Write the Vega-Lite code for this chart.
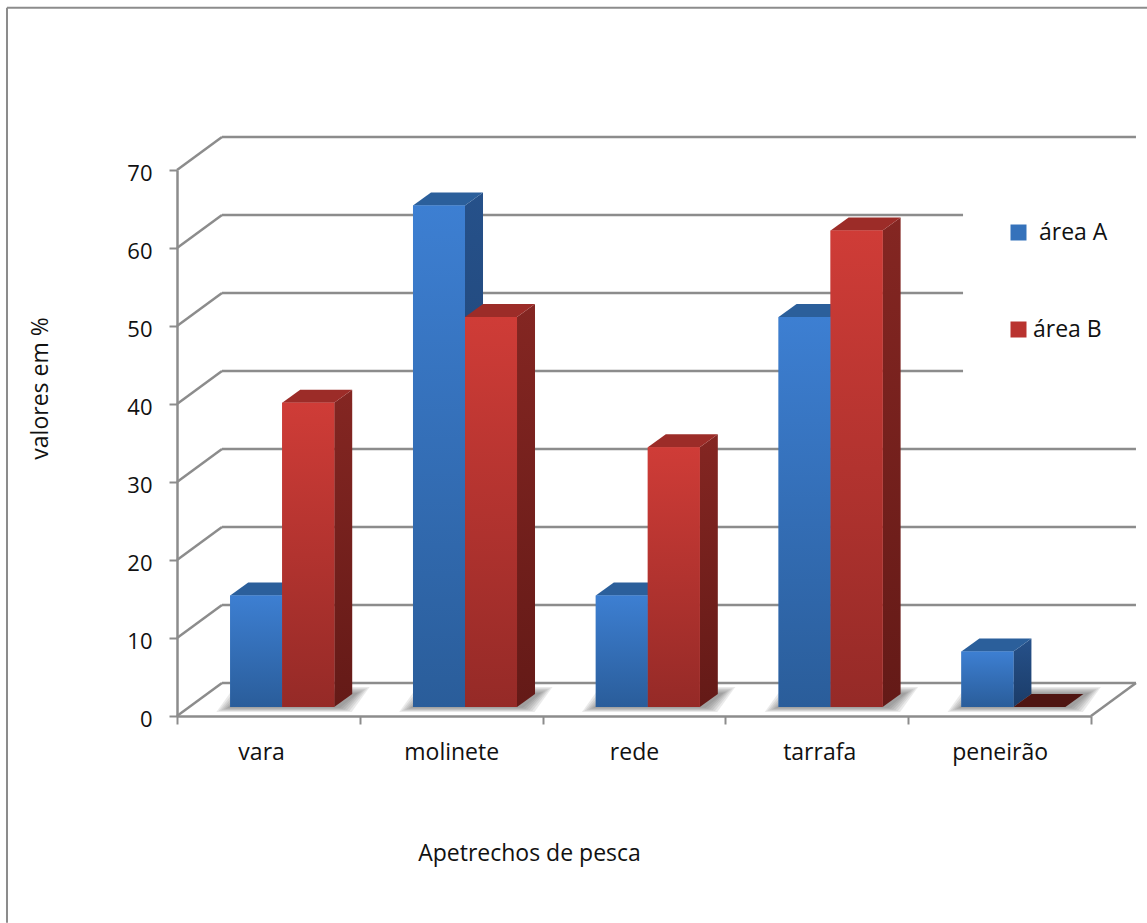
{
"$schema":"https://vega.github.io/schema/vega-lite/v6.json",
"width":914,"height":546,
"autosize":{"type":"none"},
"padding":{"left":177,"top":170,"right":56,"bottom":207},
"background":"white",
"config":{"view":{"stroke":null},"font":"Open Sans"},
"data":{"values":[
{"ferramenta":"vara","area":"área A","valor":14.3},
{"ferramenta":"vara","area":"área B","valor":39},
{"ferramenta":"molinete","area":"área A","valor":64.3},
{"ferramenta":"molinete","area":"área B","valor":50},
{"ferramenta":"rede","area":"área A","valor":14.3},
{"ferramenta":"rede","area":"área B","valor":33.3},
{"ferramenta":"tarrafa","area":"área A","valor":50},
{"ferramenta":"tarrafa","area":"área B","valor":61.1},
{"ferramenta":"peneirão","area":"área A","valor":7.1},
{"ferramenta":"peneirão","area":"área B","valor":0}
]},
"transform":[
{"calculate":"indexof(['vara','molinete','rede','tarrafa','peneirão'],datum.ferramenta)","as":"ordem"},
{"calculate":"datum.ordem+0.291+(datum.area=='área B'?0.2845:0)","as":"esq"},
{"calculate":"datum.esq+0.2845","as":"dir"},
{"calculate":"1.154","as":"base"},
{"calculate":"datum.base+datum.valor","as":"topo"},
{"calculate":"datum.ferramenta+datum.area","as":"barra"}
],
"encoding":{
"x":{"field":"px","type":"quantitative","scale":{"domain":[0,5],"nice":false,"zero":false},
"axis":{"values":[0,0.46,1,1.5,2,2.5,3,3.513,4,4.5,5],
"labelExpr":"datum.value%1==0?'':['vara','molinete','rede','tarrafa','peneirão'][floor(datum.value)]",
"tickOpacity":{"condition":{"test":"datum.value%1==0","value":1},"value":0},
"grid":false,"tickSize":8,"tickWidth":2,"tickColor":"#8c8c8c","domainColor":"#8c8c8c","domainWidth":2.5,
"labelFontSize":23,"labelColor":"#111111","labelPadding":17,"labelFlush":false,"labelOverlap":false,"labelAngle":0,
"title":"Apetrechos de pesca","titleFontSize":23,"titleFontWeight":"normal","titleColor":"#111111",
"titleX":352,"titleY":137,"titleAlign":"center","titleBaseline":"middle"}},
"y":{"field":"py","type":"quantitative","scale":{"domain":[0,70],"nice":false,"zero":false},
"axis":{"values":[0,10,20,30,40,50,60,70],"grid":false,"tickSize":8,"tickWidth":2,"tickColor":"#8c8c8c","domainColor":"#8c8c8c","domainWidth":2.5,
"labelFontSize":22,"labelColor":"#111111","labelPadding":17,"labelOverlap":false,"labelOffset":3,
"title":"valores em %","titleFontSize":23,"titleFontWeight":"normal","titleColor":"#111111",
"titleX":-137,"titleY":218,"titleAlign":"center","titleBaseline":"middle","titleAngle":-90}}
},
"layer":[
{"data":{"values":[{"borda":"esquerda"},{"borda":"superior"}]},
"transform":[
{"calculate":"-0.93","as":"px"},
{"calculate":"datum.borda=='superior'?5.31:-0.93","as":"px2"},
{"calculate":"90.8","as":"py"},
{"calculate":"datum.borda=='superior'?90.8:-26.5","as":"py2"}],
"mark":{"type":"rule","stroke":"#8c8c8c","strokeWidth":2,"clip":false},
"encoding":{"x2":{"field":"px2"},"y2":{"field":"py2"}}},

{"data":{"values":[{"nivel":0},{"nivel":10},{"nivel":20},{"nivel":30},{"nivel":40},{"nivel":50},{"nivel":60},{"nivel":70}]},
"transform":[
{"calculate":"0.246","as":"px"},
{"calculate":"datum.nivel>=40&&datum.nivel<=60?4.3:5.246","as":"px2"},
{"calculate":"datum.nivel+4.23","as":"py"},
{"calculate":"datum.py","as":"py2"}],
"mark":{"type":"rule","stroke":"#8c8c8c","strokeWidth":2.5},
"encoding":{"x2":{"field":"px2"},"y2":{"field":"py2"}}},
{"data":{"values":[{"nivel":0},{"nivel":10},{"nivel":20},{"nivel":30},{"nivel":40},{"nivel":50},{"nivel":60},{"nivel":70}]},
"transform":[
{"calculate":"0","as":"px"},
{"calculate":"0.246","as":"px2"},
{"calculate":"datum.nivel","as":"py"},
{"calculate":"datum.nivel+4.23","as":"py2"}],
"mark":{"type":"rule","stroke":"#8c8c8c","strokeWidth":2.5},
"encoding":{"x2":{"field":"px2"},"y2":{"field":"py2"}}},
{"data":{"values":[{"nivel":0}]},
"transform":[
{"calculate":"5","as":"px"},
{"calculate":"5.246","as":"px2"},
{"calculate":"datum.nivel","as":"py"},
{"calculate":"datum.nivel+4.23","as":"py2"}],
"mark":{"type":"rule","stroke":"#8c8c8c","strokeWidth":2.5},
"encoding":{"x2":{"field":"px2"},"y2":{"field":"py2"}}},

{"transform":[
{"filter":"datum.area=='área A'"},
{"calculate":"[0,1,2,3]","as":"s"},{"flatten":["s"]},
{"calculate":"[1,2,3,4,5,6]","as":"k"},{"flatten":["k"]},
{"calculate":"0.02+datum.k*0.0126","as":"ex"},
{"calculate":"datum.esq+0.569","as":"lim"},
{"calculate":"datum.base-datum.k*0.105","as":"ylo"},
{"calculate":"datum.base+1.667+datum.k*0.15","as":"yhi"},
{"calculate":"datum.s==0?datum.esq+0.02-datum.ex:datum.s==1?datum.esq+0.0985+0.02-datum.ex:datum.s==2?datum.lim+datum.ex:datum.lim+0.0985+datum.ex","as":"px"},
{"calculate":"datum.s==3?datum.yhi:datum.ylo","as":"py"},
{"calculate":"datum.s==0?datum.ylo:datum.yhi","as":"py2"},
{"calculate":"datum.barra+datum.k","as":"sombra"}],
"mark":{"type":"area","orient":"vertical","fill":"#555555","fillOpacity":0.12},
"encoding":{"y2":{"field":"py2"},"detail":{"field":"sombra"}}},

{"transform":[
{"filter":"datum.area=='área A'"},
{"calculate":"[0,1]","as":"t"},{"flatten":["t"]},
{"calculate":"datum.dir+datum.t*0.0985","as":"px"},
{"calculate":"datum.base+datum.t*1.667","as":"py"},
{"calculate":"datum.topo+datum.t*1.667","as":"py2"}],
"mark":{"type":"area","orient":"vertical","fill":{"gradient":"linear","x1":0,"y1":0,"x2":0,"y2":1,"stops":[{"offset":0,"color":"#26518a"},{"offset":1,"color":"#1b3c68"}]}},
"encoding":{"y2":{"field":"py2"},"detail":{"field":"barra"}}},
{"transform":[
{"filter":"datum.area=='área A'"},
{"calculate":"[0,1,2,3]","as":"s"},{"flatten":["s"]},
{"calculate":"datum.s==0?datum.esq:datum.s==1?datum.esq+0.0985:datum.s==2?datum.dir:datum.dir+0.0985","as":"px"},
{"calculate":"datum.s==3?datum.topo+1.667:datum.topo","as":"py"},
{"calculate":"datum.s==0?datum.topo:datum.topo+1.667","as":"py2"}],
"mark":{"type":"area","orient":"vertical","fill":"#2b5f9b"},
"encoding":{"y2":{"field":"py2"},"detail":{"field":"barra"}}},

{"transform":[
{"filter":"datum.area=='área B'&&datum.valor>0"},
{"calculate":"[0,1]","as":"t"},{"flatten":["t"]},
{"calculate":"datum.dir+datum.t*0.0985","as":"px"},
{"calculate":"datum.base+datum.t*1.667","as":"py"},
{"calculate":"datum.topo+datum.t*1.667","as":"py2"}],
"mark":{"type":"area","orient":"vertical","fill":{"gradient":"linear","x1":0,"y1":0,"x2":0,"y2":1,"stops":[{"offset":0,"color":"#842622"},{"offset":1,"color":"#641a17"}]}},
"encoding":{"y2":{"field":"py2"},"detail":{"field":"barra"}}},
{"transform":[
{"filter":"datum.area=='área B'"},
{"calculate":"[0,1,2,3]","as":"s"},{"flatten":["s"]},
{"calculate":"datum.s==0?datum.esq:datum.s==1?datum.esq+0.0985:datum.s==2?datum.dir:datum.dir+0.0985","as":"px"},
{"calculate":"datum.s==3?datum.topo+1.667:datum.topo","as":"py"},
{"calculate":"datum.s==0?datum.topo:datum.topo+1.667","as":"py2"}],
"mark":{"type":"area","orient":"vertical"},
"encoding":{"y2":{"field":"py2"},"detail":{"field":"barra"},
"fill":{"condition":{"test":"datum.valor==0","value":"#4f1512"},"value":"#9c2c28"}}},

{"transform":[
{"filter":"datum.valor>0"},
{"calculate":"datum.esq","as":"px"},{"calculate":"datum.dir","as":"px2"},
{"calculate":"datum.base","as":"py"},{"calculate":"datum.topo","as":"py2"}],
"mark":{"type":"rect"},
"encoding":{"x2":{"field":"px2"},"y2":{"field":"py2"},
"color":{"field":"area","type":"nominal",
"scale":{"domain":["área A","área B"],"range":["#3572bb","#b9332f"]},
"legend":{"title":null,"orient":"none","legendX":830,"legendY":51,"direction":"vertical","columns":1,"rowPadding":73,
"symbolType":"square","symbolSize":256,"symbolStrokeWidth":0,"labelFontSize":23,"labelColor":"#111111","labelOffset":3,"padding":0,
"encode":{"labels":{"update":{"dx":{"signal":"datum.value=='área A'?6:0"}}}}}}}},
{"transform":[
{"filter":"datum.area=='área A'&&datum.valor>0"},
{"calculate":"datum.esq","as":"px"},{"calculate":"datum.dir","as":"px2"},
{"calculate":"datum.base","as":"py"},{"calculate":"datum.topo","as":"py2"}],
"mark":{"type":"rect","stroke":null,"fill":{"gradient":"linear","x1":0,"y1":0,"x2":0,"y2":1,"stops":[{"offset":0,"color":"#3d7fd2"},{"offset":1,"color":"#2a5d9a"}]}},
"encoding":{"x2":{"field":"px2"},"y2":{"field":"py2"}}},
{"transform":[
{"filter":"datum.area=='área B'&&datum.valor>0"},
{"calculate":"datum.esq","as":"px"},{"calculate":"datum.dir","as":"px2"},
{"calculate":"datum.base","as":"py"},{"calculate":"datum.topo","as":"py2"}],
"mark":{"type":"rect","stroke":null,"fill":{"gradient":"linear","x1":0,"y1":0,"x2":0,"y2":1,"stops":[{"offset":0,"color":"#cf3c37"},{"offset":1,"color":"#952a27"}]}},
"encoding":{"x2":{"field":"px2"},"y2":{"field":"py2"}}}
]
}
